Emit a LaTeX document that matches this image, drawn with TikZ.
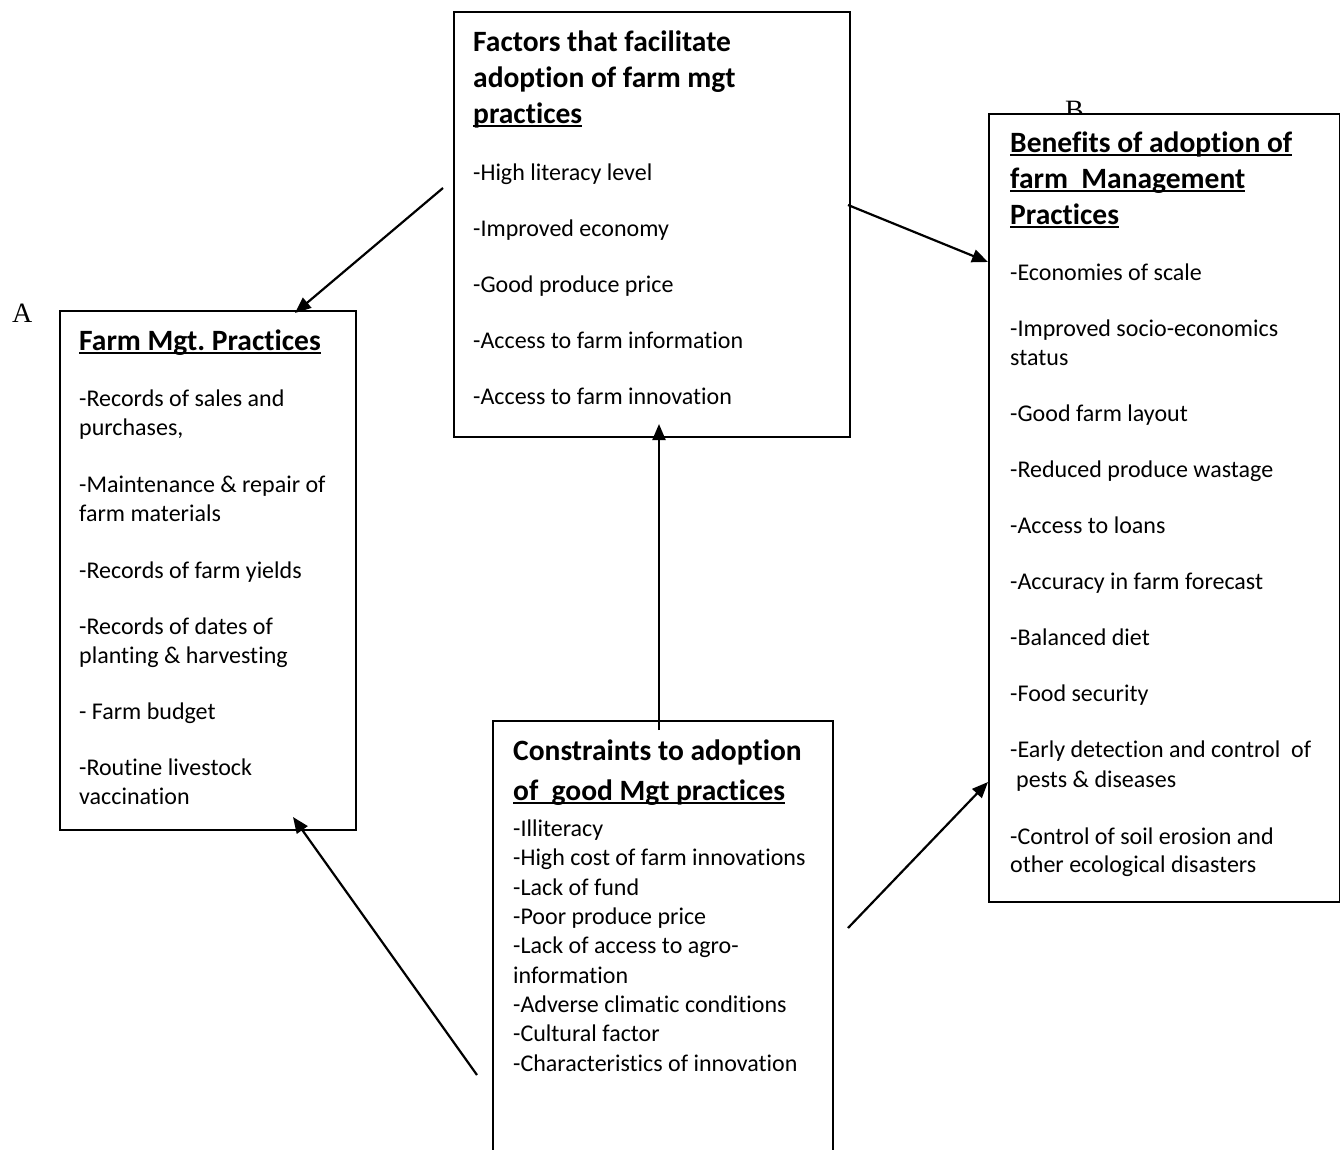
\documentclass[tikz,border=0pt]{standalone}
\usepackage{fontspec}
\setmainfont[RawFeature={-liga;-clig;-dlig}]{Carlito}
\newfontfamily\timesf{Liberation Serif}
\usetikzlibrary{arrows.meta}
\newcommand\ulx[1]{\setbox0\hbox{#1}\rlap{\rule[-3.5pt]{\wd0}{2pt}}\box0}
\frenchspacing
\begin{document}
\begin{tikzpicture}[x=1pt,y=-1pt,
 box/.style={draw,line width=1.6pt,anchor=north west,inner sep=0,fill=white},
 body/.style={anchor=base west,inner sep=0,font=\fontsize{24}{29}\selectfont},
 head/.style={anchor=base west,inner sep=0,font=\fontsize{29.5}{36}\selectfont\bfseries},
 lbl/.style={anchor=base west,inner sep=0,font=\timesf\fontsize{28}{30}\selectfont},
 conn/.style={line width=2.2pt,-{Triangle[length=16pt,width=13pt]}}]
\useasboundingbox (0,0) rectangle (1340,1149);
\clip (0,0) rectangle (1340,1149);
% labels
\node[lbl] (lblA) at (12,322) {A};
\node[lbl] (lblB) at (1065,119) {B};
% boxes
\node[box,minimum width=396pt,minimum height=425pt] (facbox) at (453,11) {};
\node[box,minimum width=296pt,minimum height=519pt] (farmbox) at (59,310) {};
\node[box,minimum width=351pt,minimum height=788pt] (benbox) at (988,113) {};
\node[box,minimum width=340pt,minimum height=470pt] (conbox) at (492,720) {};
% factors box
\node[head] (fach1) at (473,51) {Factors that facilitate};
\node[head] (fach2) at (473,87) {adoption of farm mgt};
\node[head] (fach3) at (473,123) {\ulx{practices}};
\foreach \t/\yy [count=\i] in {{-High literacy level}/180,{-Improved economy}/236,{-Good produce price}/292,{-Access to farm information}/348,{-Access to farm innovation}/404}
  \node[body] (fac\i) at (473,\yy) {\t};
% farm box
\node[head] (farmh) at (79,350) {\ulx{Farm Mgt. Practices}};
\foreach \t/\yy [count=\i] in {{-Records of sales and}/406,{purchases,}/435,{-Maintenance \& repair of}/492,{farm materials}/521,{-Records of farm yields}/578,{-Records of dates of}/634,{planting \& harvesting}/663,{- Farm budget}/719,{-Routine livestock}/775,{vaccination}/804}
  \node[body] (farm\i) at (79,\yy) {\t};
% benefits box
\node[head] (benh1) at (1010,152) {\ulx{Benefits of adoption of}};
\node[head] (benh2) at (1010,188) {\ulx{farm\ \ Management}};
\node[head] (benh3) at (1010,224) {\ulx{Practices}};
\foreach \t/\yy [count=\i] in {{-Economies of scale}/280,{-Improved socio-economics}/336,{status}/365,{-Good farm layout}/421,{-Reduced produce wastage}/477,{-Access to loans}/533,{-Accuracy in farm forecast}/589,{-Balanced diet}/645,{-Food security}/701,{-Early detection and control\ \ of}/757,{-Control of soil erosion and}/844,{other ecological disasters}/872}
  \node[body] (ben\i) at (1010,\yy) {\t};
\node[body] (benx) at (1016,787) {pests \& diseases};
% constraints box
\node[head] (conh1) at (513,760) {Constraints to adoption};
\node[head] (conh2) at (513,800) {\ulx{of\ \ good Mgt practices}};
\foreach \t/\yy [count=\i] in {{-Illiteracy}/836,{-High cost of farm innovations}/865.5,{-Lack of fund}/895,{-Poor produce price}/924,{-Lack of access to agro-}/953.5,{information}/983,{-Adverse climatic conditions}/1012,{-Cultural factor}/1041.5,{-Characteristics of innovation}/1071}
  \node[body] (con\i) at (513,\yy) {\t};
% connectors
\coordinate (a1s) at (443,188); \coordinate (a1e) at (295,313);
\coordinate (a2s) at (848,205); \coordinate (a2e) at (988,262);
\coordinate (a3s) at (659,730); \coordinate (a3e) at (659,424);
\coordinate (a4s) at (477,1075); \coordinate (a4e) at (293,817);
\coordinate (a5s) at (848,928); \coordinate (a5e) at (988,782);
\draw[conn] (a1s) -- (a1e);
\draw[conn] (a2s) -- (a2e);
\draw[conn] (a3s) -- (a3e);
\draw[conn] (a4s) -- (a4e);
\draw[conn] (a5s) -- (a5e);
\end{tikzpicture}
\end{document}
